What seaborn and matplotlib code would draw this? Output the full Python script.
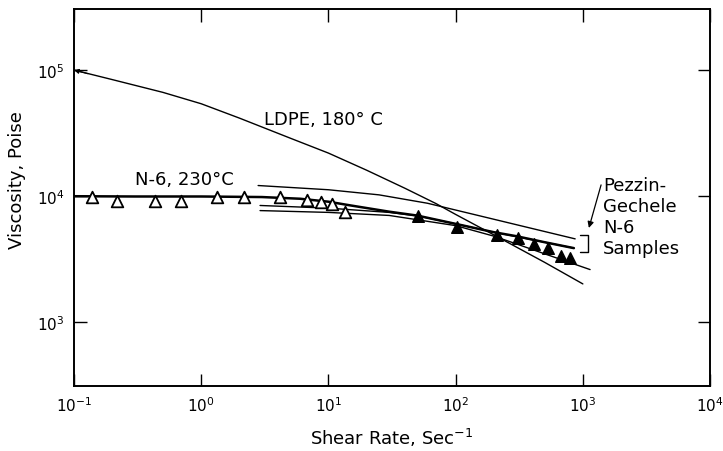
import numpy as np
import pandas as pd
import matplotlib
matplotlib.use("Agg")
import matplotlib.pyplot as plt
import seaborn as sns

# ---------------- data ----------------
ldpe_x = [0.1, 0.2, 0.5, 1, 2, 5, 10, 20, 40, 70, 100, 200, 500, 1000]
ldpe_y = [100000, 84000, 66500, 54000, 41500, 28800, 21900, 16000, 11500, 8700, 7130, 4900, 2970, 2000]

n6_x = [0.1, 0.3, 1, 3, 6, 10, 15, 30, 50, 100, 200, 300, 500, 850]
n6_y = [9950, 9900, 9900, 9800, 9500, 9000, 8400, 7500, 6980, 6000, 5150, 4790, 4290, 3850]

pg1_x = [2.8, 10, 25, 60, 150, 400, 870]
pg1_y = [12100, 11200, 10200, 8750, 7000, 5510, 4560]

pg2_x = [2.9, 10, 30, 50, 100, 200, 500, 850]
pg2_y = [8400, 8000, 7400, 6950, 6000, 5150, 4290, 3850]

pg3_x = [2.9, 10, 30, 100, 200, 300, 500, 1140]
pg3_y = [7650, 7400, 7000, 5810, 4790, 4160, 3470, 2600]

open_x = [0.138, 0.219, 0.434, 0.69, 1.32, 2.17, 4.17, 6.8, 8.7, 10.7, 13.5]
open_y = [9800, 9180, 9180, 9180, 9890, 9890, 9890, 9350, 9020, 8590, 7430]

solid_x = [50.9, 103, 210, 311, 416, 536, 675, 793]
solid_y = [6980, 5650, 4900, 4610, 4160, 3850, 3360, 3200]

x_ticks = [1e-1, 1e0, 1e1, 1e2, 1e3, 1e4]
y_ticks = [1e3, 1e4, 1e5]

# ---------------- build long-form tables ----------------
curves = pd.concat([
    pd.DataFrame({"x": ldpe_x, "y": ldpe_y, "curve": "LDPE"}),
    pd.DataFrame({"x": pg1_x, "y": pg1_y, "curve": "PG1"}),
    pd.DataFrame({"x": pg3_x, "y": pg3_y, "curve": "PG3"}),
    pd.DataFrame({"x": pg2_x, "y": pg2_y, "curve": "PG2"}),
], ignore_index=True)
n6 = pd.DataFrame({"x": n6_x, "y": n6_y})
opens = pd.DataFrame({"x": open_x, "y": open_y})
solids = pd.DataFrame({"x": solid_x, "y": solid_y})

sns.set_style("ticks")
plt.rcParams["font.family"] = ["DejaVu Sans"]
plt.rcParams["text.color"] = "black"
plt.rcParams["axes.labelcolor"] = "black"
plt.rcParams["xtick.color"] = "black"
plt.rcParams["ytick.color"] = "black"

fig = plt.figure(figsize=(7.23, 4.52), dpi=100)
ax = fig.add_axes([0.1024, 0.1438, 0.8797, 0.834])

sns.lineplot(data=curves, x="x", y="y", units="curve", estimator=None, sort=False,
             color="black", linewidth=1.0, ax=ax, legend=False)
sns.lineplot(data=n6, x="x", y="y", estimator=None, sort=False,
             color="black", linewidth=1.8, ax=ax, legend=False)
sns.scatterplot(data=opens, x="x", y="y", marker="^", s=70, facecolor="white",
                edgecolor="black", linewidth=1.3, ax=ax, legend=False, zorder=5)
sns.scatterplot(data=solids, x="x", y="y", marker="^", s=70, color="black",
                edgecolor="black", linewidth=1.0, ax=ax, legend=False, zorder=5)

ax.set_xscale("log")
ax.set_yscale("log")
ax.set_xlim(1e-1, 1e4)
ax.set_ylim(309, 305500)
ax.set_xticks(x_ticks)
ax.set_yticks(y_ticks)
ax.minorticks_off()
ax.tick_params(which="major", direction="in", length=9, width=1.0,
               top=True, right=True, labelsize=11, pad=7, colors="black")
for s in ax.spines.values():
    s.set_linewidth(1.4)
    s.set_color("black")

ax.set_xlabel("Shear Rate, Sec$^{-1}$", fontsize=13, labelpad=8, color="black")
ax.set_ylabel("Viscosity, Poise", fontsize=13, color="black")
ax.yaxis.set_label_coords(-0.075, 0.55)

# arrow head at the LDPE curve start
ax.annotate("", xy=(ldpe_x[0], ldpe_y[0]), xytext=(10, -2.6), textcoords="offset points",
            arrowprops=dict(arrowstyle="-|>", color="black", lw=0.8, mutation_scale=7,
                            shrinkA=0, shrinkB=0))

# labels
ax.text(3.12, 40800, "LDPE, 180° C", fontsize=13, va="center", ha="left", color="black")
ax.text(0.302, 13650, "N-6, 230°C", fontsize=13, va="center", ha="left", color="black")
ax.text(1440, 6870, "Pezzin-\nGechele\nN-6\nSamples", fontsize=13, va="center",
        ha="left", linespacing=1.2, color="black")

# bracket and arrow for Pezzin-Gechele
ax.plot([950, 1100, 1100, 950], [4900, 4900, 3600, 3600], color="black", lw=1.0)
ax.annotate("", xy=(1100, 5300), xytext=(1410, 12850),
            arrowprops=dict(arrowstyle="-|>", color="black", lw=0.9, mutation_scale=9))

fig.savefig("out.png", dpi=100)
